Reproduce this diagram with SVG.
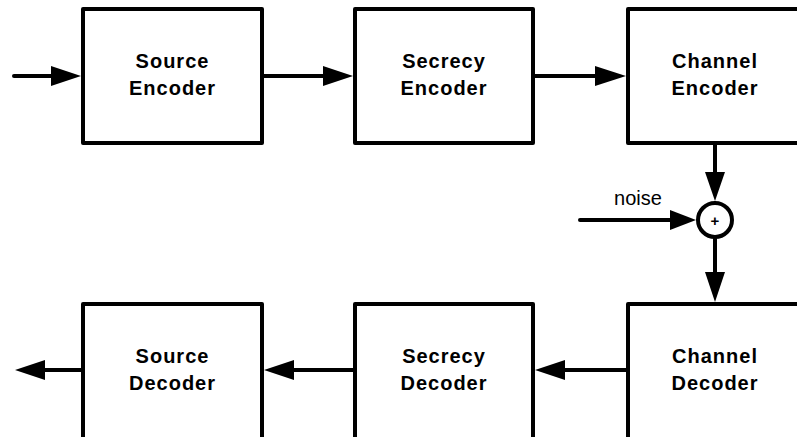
<svg xmlns="http://www.w3.org/2000/svg" width="797" height="437" viewBox="0 0 797 437">
<style>
.box{fill:#fff;stroke:#000;stroke-width:4;stroke-linejoin:round}
.lbl{font-family:"Liberation Sans",Arial,sans-serif;font-weight:bold;font-size:20px;letter-spacing:1px;text-anchor:middle;fill:#000}
.ln{stroke:#000;stroke-width:4;stroke-linecap:round;fill:none}
.hd{fill:#000;stroke:none}
</style>
<rect width="797" height="437" fill="#fff"/>
<g id="source-encoder"><rect class="box" x="83" y="9" width="179" height="134"/><text class="lbl" x="172.5" y="68">Source</text><text class="lbl" x="172.5" y="95">Encoder</text></g>
<g id="secrecy-encoder"><rect class="box" x="355" y="9" width="178" height="134"/><text class="lbl" x="444" y="68">Secrecy</text><text class="lbl" x="444" y="95">Encoder</text></g>
<g id="channel-encoder"><rect class="box" x="628" y="9" width="180" height="134"/><text class="lbl" x="715" y="68">Channel</text><text class="lbl" x="715" y="95">Encoder</text></g>
<g id="source-decoder"><rect class="box" x="83" y="304" width="179" height="150"/><text class="lbl" x="172.5" y="363">Source</text><text class="lbl" x="172.5" y="390">Decoder</text></g>
<g id="secrecy-decoder"><rect class="box" x="355" y="304" width="178" height="150"/><text class="lbl" x="444" y="363">Secrecy</text><text class="lbl" x="444" y="390">Decoder</text></g>
<g id="channel-decoder"><rect class="box" x="628" y="304" width="180" height="150"/><text class="lbl" x="715" y="363">Channel</text><text class="lbl" x="715" y="390">Decoder</text></g>
<g id="adder"><circle cx="715" cy="220" r="17" fill="#fff" stroke="#000" stroke-width="4"/><text x="715" y="225.5" font-family="Liberation Sans,Arial,sans-serif" font-weight="bold" font-size="15" text-anchor="middle">+</text></g>
<g id="connectors">
<line class="ln" x1="14" y1="76" x2="55" y2="76"/><polygon class="hd" points="51,66 81,76 51,86"/>
<line class="ln" x1="264" y1="76" x2="327" y2="76"/><polygon class="hd" points="323,66 353,76 323,86"/>
<line class="ln" x1="535" y1="76" x2="599" y2="76"/><polygon class="hd" points="595,66 626,76 595,86"/>
<line class="ln" x1="715" y1="145" x2="715" y2="176"/><polygon class="hd" points="705,172 715,201 725,172"/>
<line class="ln" x1="715" y1="239" x2="715" y2="276"/><polygon class="hd" points="705,272 715,302 725,272"/>
<line class="ln" x1="580" y1="220" x2="674" y2="220"/><polygon class="hd" points="670,210 696,220 670,230"/>
<line class="ln" x1="626" y1="370" x2="561" y2="370"/><polygon class="hd" points="565,360 535,370 565,380"/>
<line class="ln" x1="353" y1="370" x2="290" y2="370"/><polygon class="hd" points="294,360 264,370 294,380"/>
<line class="ln" x1="81" y1="370" x2="41" y2="370"/><polygon class="hd" points="45,360 15,370 45,380"/>
<text x="638" y="205" font-family="Liberation Sans,Arial,sans-serif" font-size="20" text-anchor="middle">noise</text>
</g>
</svg>
